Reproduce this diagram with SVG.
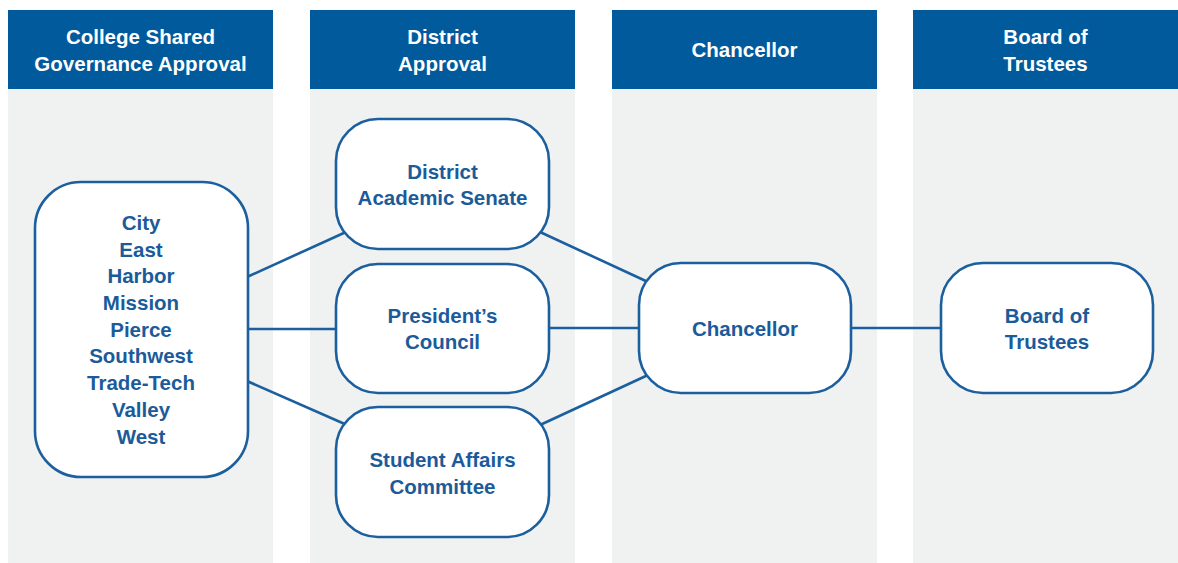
<svg xmlns="http://www.w3.org/2000/svg" width="1178" height="563" viewBox="0 0 1178 563">
<style>
.col{fill:#f0f1f1}
.hdr{fill:#005a9b}
.ht{fill:#ffffff;font-family:"Liberation Sans",Arial,sans-serif;font-weight:bold;font-size:20.5px;text-anchor:middle}
.box{fill:#ffffff;stroke:#1c5f9e;stroke-width:2.6}
.nt{fill:#1b5b9a;font-family:"Liberation Sans",Arial,sans-serif;font-weight:bold;font-size:20.5px;text-anchor:middle}
.ln{stroke:#1c5f9e;stroke-width:2.6;fill:none}
</style>
<rect width="1178" height="563" fill="#ffffff"/>
<g id="columns">
<rect class="col" x="8" y="89" width="265" height="474"/>
<rect class="col" x="310" y="89" width="265" height="474"/>
<rect class="col" x="612" y="89" width="265" height="474"/>
<rect class="col" x="913" y="89" width="265" height="474"/>
</g>
<g id="header-college">
<rect class="hdr" x="8" y="10" width="265" height="79"/>
<text class="ht" x="140.5" y="44">College Shared</text>
<text class="ht" x="140.5" y="71">Governance Approval</text>
</g>
<g id="header-district">
<rect class="hdr" x="310" y="10" width="265" height="79"/>
<text class="ht" x="442.5" y="44">District</text>
<text class="ht" x="442.5" y="71">Approval</text>
</g>
<g id="header-chancellor">
<rect class="hdr" x="612" y="10" width="265" height="79"/>
<text class="ht" x="744.5" y="57">Chancellor</text>
</g>
<g id="header-board">
<rect class="hdr" x="913" y="10" width="265" height="79"/>
<text class="ht" x="1045.5" y="44">Board of</text>
<text class="ht" x="1045.5" y="71">Trustees</text>
</g>
<g id="connectors">
<line class="ln" x1="247" y1="277" x2="346" y2="232"/>
<line class="ln" x1="247" y1="329" x2="337" y2="329"/>
<line class="ln" x1="247" y1="381" x2="347" y2="425"/>
<line class="ln" x1="540" y1="232" x2="648" y2="282"/>
<line class="ln" x1="549" y1="328" x2="639" y2="328"/>
<line class="ln" x1="540" y1="425" x2="648" y2="375"/>
<line class="ln" x1="851" y1="328" x2="941" y2="328"/>
</g>
<g id="node-colleges">
<rect class="box" x="35" y="182" width="213" height="295" rx="46"/>
<text class="nt" x="141" y="230">City</text>
<text class="nt" x="141" y="257">East</text>
<text class="nt" x="141" y="283">Harbor</text>
<text class="nt" x="141" y="310">Mission</text>
<text class="nt" x="141" y="337">Pierce</text>
<text class="nt" x="141" y="363">Southwest</text>
<text class="nt" x="141" y="390">Trade-Tech</text>
<text class="nt" x="141" y="417">Valley</text>
<text class="nt" x="141" y="444">West</text>
</g>
<g id="node-das">
<rect class="box" x="336" y="119" width="213" height="130" rx="42"/>
<text class="nt" x="442.5" y="179">District</text>
<text class="nt" x="442.5" y="205">Academic Senate</text>
</g>
<g id="node-pc">
<rect class="box" x="336" y="264" width="213" height="129" rx="42"/>
<text class="nt" x="442.5" y="323">President’s</text>
<text class="nt" x="442.5" y="349">Council</text>
</g>
<g id="node-sac">
<rect class="box" x="336" y="407" width="213" height="130" rx="42"/>
<text class="nt" x="442.5" y="467">Student Affairs</text>
<text class="nt" x="442.5" y="494">Committee</text>
</g>
<g id="node-chancellor">
<rect class="box" x="639" y="263" width="212" height="130" rx="42"/>
<text class="nt" x="745" y="336">Chancellor</text>
</g>
<g id="node-board">
<rect class="box" x="941" y="263" width="212" height="130" rx="42"/>
<text class="nt" x="1047" y="323">Board of</text>
<text class="nt" x="1047" y="349">Trustees</text>
</g>
</svg>
